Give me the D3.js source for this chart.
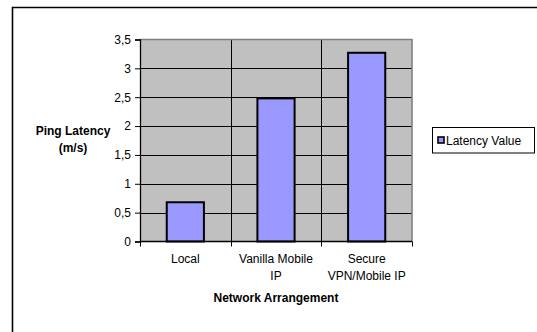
<!DOCTYPE html>
<html>
<head>
<meta charset="utf-8">
<script src="https://cdn.jsdelivr.net/npm/d3@7"></script>
<style>
  html, body { margin: 0; padding: 0; background: #fff; }
  svg { display: block; font-family: "Liberation Sans", Arial, sans-serif; }
</style>
</head>
<body>
<svg id="chart" width="537" height="332"></svg>
<script>
const categories = [["Local"], ["Vanilla Mobile", "IP"], ["Secure", "VPN/Mobile IP"]];
const categoryKeys = ["Local", "Vanilla Mobile IP", "Secure VPN/Mobile IP"];
const latencyValues = [0.68, 2.48, 3.27];
const yTicks = [0, 0.5, 1, 1.5, 2, 2.5, 3, 3.5];
const yTickLabels = ["0", "0,5", "1", "1,5", "2", "2,5", "3", "3,5"];
const seriesName = "Latency Value";
const yTitle = ["Ping Latency", "(m/s)"];
const xTitle = "Network Arrangement";

const svg = d3.select("#chart");
const plot = { left: 140, right: 412, top: 39.5, bottom: 241.5 };

// outer frame
svg.append("path")
  .attr("d", `M12.5,332 V7.5 H537`)
  .attr("fill", "none").attr("stroke", "#000").attr("stroke-width", 1.6);

const x = d3.scaleBand().domain(categoryKeys).range([plot.left, plot.right]).padding(0);
const y = d3.scaleLinear().domain([0, 3.5]).range([plot.bottom, plot.top]);

// plot background
svg.append("rect")
  .attr("x", plot.left).attr("y", plot.top)
  .attr("width", plot.right - plot.left).attr("height", plot.bottom - plot.top)
  .attr("fill", "#c0c0c0");

// horizontal gridlines
svg.append("g").selectAll("line").data(yTicks.filter(d => d > 0 && d < 3.5)).join("line")
  .attr("x1", plot.left).attr("x2", plot.right)
  .attr("y1", d => Math.round(y(d)) + 0.5).attr("y2", d => Math.round(y(d)) + 0.5)
  .attr("stroke", "#000").attr("stroke-width", 1);

// vertical gridlines at band boundaries
svg.append("g").selectAll("line").data(categoryKeys.slice(1)).join("line")
  .attr("x1", d => Math.round(x(d)) + 0.5).attr("x2", d => Math.round(x(d)) + 0.5)
  .attr("y1", plot.top).attr("y2", plot.bottom)
  .attr("stroke", "#000").attr("stroke-width", 1);

// top and right border (gray)
svg.append("path")
  .attr("d", `M${plot.left},${plot.top} H${plot.right} V${plot.bottom}`)
  .attr("fill", "none").attr("stroke", "#808080").attr("stroke-width", 1.6);

// bars
const barW = x.bandwidth() * 0.41;
svg.append("g").selectAll("rect").data(latencyValues).join("rect")
  .attr("x", (d, i) => x(categoryKeys[i]) + (x.bandwidth() - barW) / 2)
  .attr("y", d => y(d))
  .attr("width", barW)
  .attr("height", d => y(0) - y(d))
  .attr("fill", "#9999ff")
  .attr("stroke", "#000").attr("stroke-width", 2);

// y axis
const yAxis = d3.axisLeft(y).tickValues(yTicks)
  .tickFormat((d, i) => yTickLabels[i]).tickSize(5).tickPadding(4);
const gy = svg.append("g").attr("transform", `translate(${plot.left},0)`).call(yAxis);
gy.select(".domain").attr("stroke", "#000").attr("stroke-width", 1.3);
gy.selectAll(".tick line").attr("stroke", "#000");
gy.selectAll(".tick text").attr("font-size", 12).attr("fill", "#000")
  .attr("font-family", "Liberation Sans, Arial, sans-serif");

// x axis (ticks at band boundaries)
const boundaries = categoryKeys.map(k => x(k)).concat([plot.right]);
const gx = svg.append("g");
gx.append("line").attr("x1", plot.left).attr("x2", plot.right)
  .attr("y1", plot.bottom).attr("y2", plot.bottom)
  .attr("stroke", "#000").attr("stroke-width", 1.3);
gx.selectAll("line.tk").data(boundaries).join("line").attr("class", "tk")
  .attr("x1", d => Math.round(d) + 0.5).attr("x2", d => Math.round(d) + 0.5)
  .attr("y1", plot.bottom).attr("y2", plot.bottom + 5)
  .attr("stroke", "#000");

// category labels
const labels = svg.append("g").attr("font-size", 12).attr("fill", "#000").attr("text-anchor", "middle");
categories.forEach((lines, i) => {
  const cx = x(categoryKeys[i]) + x.bandwidth() / 2;
  lines.forEach((t, j) => {
    labels.append("text").attr("x", cx).attr("y", 263 + j * 17).text(t);
  });
});

// axis titles
svg.append("text").attr("x", (plot.left + plot.right) / 2).attr("y", 302)
  .attr("text-anchor", "middle").attr("font-size", 12).attr("font-weight", "bold").text(xTitle);
yTitle.forEach((t, j) => {
  svg.append("text").attr("x", 73).attr("y", 135 + j * 17)
    .attr("text-anchor", "middle").attr("font-size", 12).attr("font-weight", "bold").text(t);
});

// legend
const lg = svg.append("g");
lg.append("rect").attr("x", 432.5).attr("y", 127.5).attr("width", 102).attr("height", 25.5)
  .attr("fill", "#fff").attr("stroke", "#000").attr("stroke-width", 1);
lg.append("rect").attr("x", 438).attr("y", 137).attr("width", 6).attr("height", 6)
  .attr("fill", "#9999ff").attr("stroke", "#000").attr("stroke-width", 1.6);
lg.append("text").attr("x", 446).attr("y", 144.5).attr("font-size", 12).text(seriesName);
</script>
</body>
</html>
